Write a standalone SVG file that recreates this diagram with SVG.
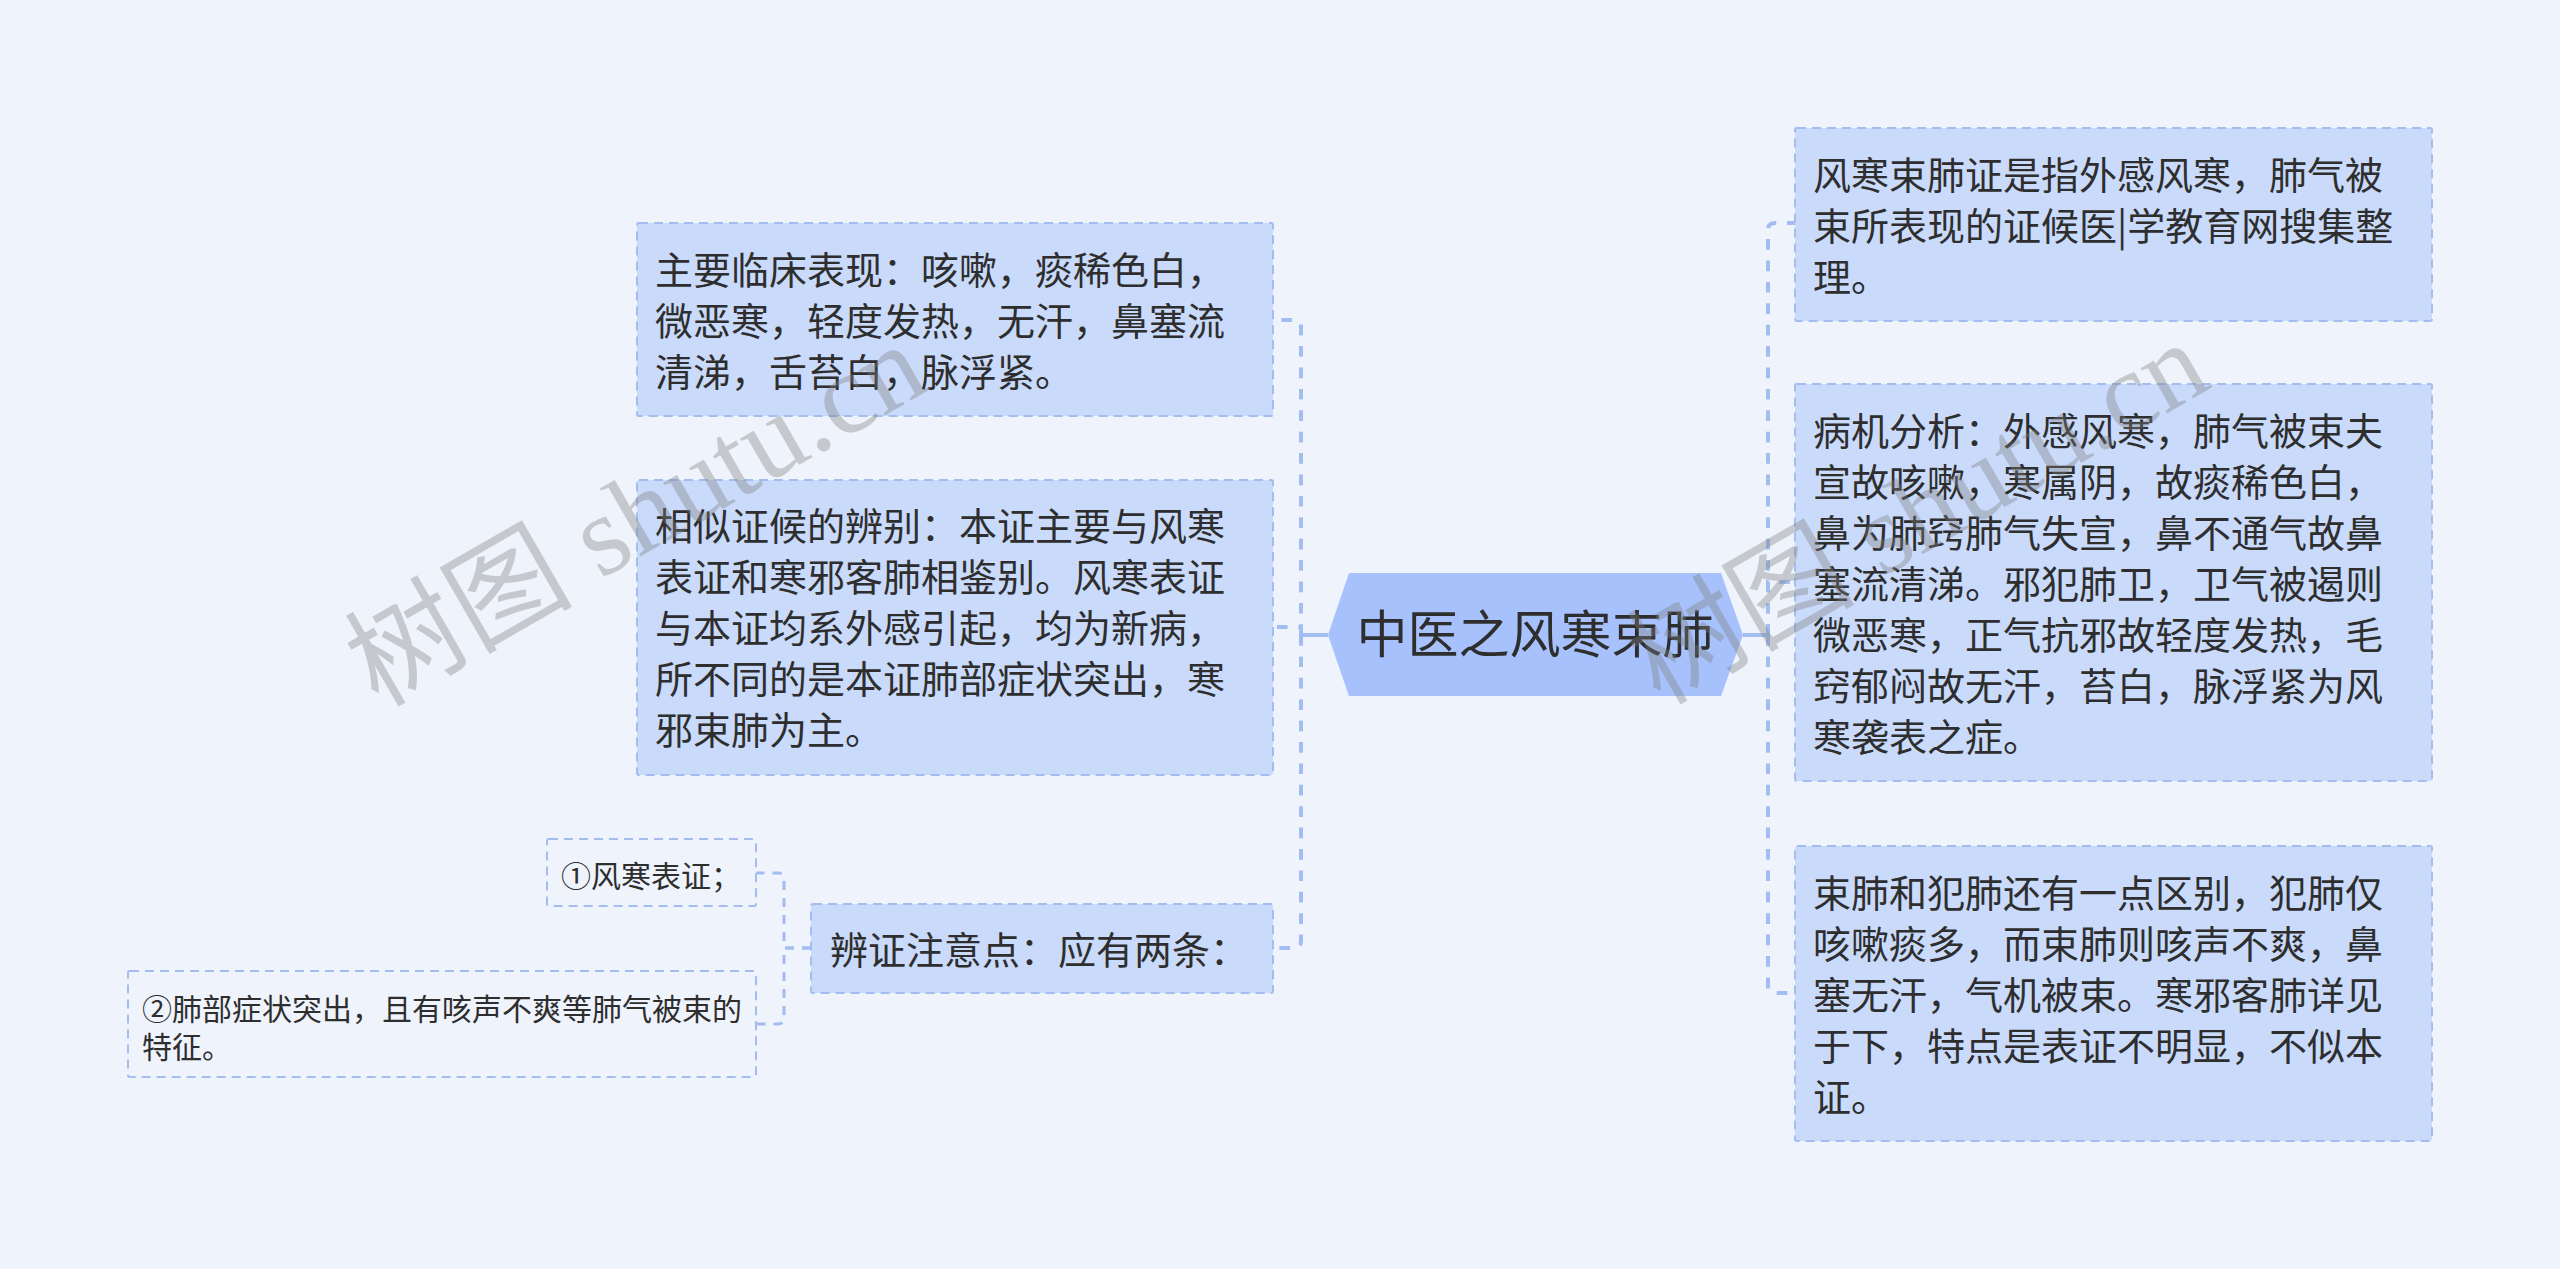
<svg xmlns="http://www.w3.org/2000/svg" width="2560" height="1269" viewBox="0 0 2560 1269">
<style>
.bg{fill:#eef3fc}
.box{fill:#c9dafb;stroke:#a3bdf0;stroke-width:2;stroke-dasharray:9 6}
.sub{fill:none;stroke:#a3bdf0;stroke-width:2;stroke-dasharray:9 6}
.root{fill:#a6c1fb}
.t{font-family:"Noto Sans CJK SC","Noto Sans",sans-serif;font-size:38px;fill:#2e2e2e}
.ts{font-family:"Noto Sans CJK SC","Noto Sans",sans-serif;font-size:30px;fill:#2e2e2e}
.tr{font-family:"Noto Sans CJK SC","Noto Sans",sans-serif;font-size:51px;fill:#2e2e2e}
.c{fill:none;stroke:#a3bdf2;stroke-width:4;stroke-dasharray:10.7 10.7}
.cs{fill:none;stroke:#a3bdf2;stroke-width:3;stroke-dasharray:9 8}
.solid{fill:none;stroke:#a3bdf2;stroke-width:4}
.wm{font-family:"Liberation Serif","Noto Sans CJK SC",serif;font-size:114px;fill:#808080;opacity:0.37}
</style>
<rect class="bg" x="0" y="0" width="2560" height="1269"/>

<g id="connectors">
  <path class="solid" d="M1328,635 H1301"/>
  <path class="c" d="M1301,635 V327 Q1301,320 1294,320 H1273"/>
  <path class="c" d="M1301,635 V627 H1273"/>
  <path class="c" d="M1301,635 V941 Q1301,948 1294,948 H1273"/>
  <path class="solid" d="M1743,635 H1768"/>
  <path class="c" d="M1768,635 V230 Q1768,223 1775,223 H1795"/>
  <path class="c" d="M1768,635 V582 H1795"/>
  <path class="c" d="M1768,635 V986 Q1768,993 1775,993 H1795"/>
  <path class="cs" d="M811,948 H784 V879 Q784,873 778,873 H756"/>
  <path class="cs" d="M811,948 H784 V1018 Q784,1024 778,1024 H756"/>
</g>

<g id="root">
  <polygon class="root" points="1328,635 1349,573 1721,573 1743,635 1721,696 1349,696"/>
  <text class="tr" x="1535" y="653" text-anchor="middle">中医之风寒束肺</text>
</g>

<g id="n-main">
  <rect class="box" x="637" y="223" width="636" height="193" rx="2"/>
  <text class="t"><tspan x="655" y="284">主要临床表现：咳嗽，痰稀色白，</tspan><tspan x="655" y="335">微恶寒，轻度发热，无汗，鼻塞流</tspan><tspan x="655" y="386">清涕，舌苔白，脉浮紧。</tspan></text>
</g>

<g id="n-similar">
  <rect class="box" x="637" y="480" width="636" height="295" rx="2"/>
  <text class="t"><tspan x="655" y="540">相似证候的辨别：本证主要与风寒</tspan><tspan x="655" y="591">表证和寒邪客肺相鉴别。风寒表证</tspan><tspan x="655" y="642">与本证均系外感引起，均为新病，</tspan><tspan x="655" y="693">所不同的是本证肺部症状突出，寒</tspan><tspan x="655" y="744">邪束肺为主。</tspan></text>
</g>

<g id="n-points">
  <rect class="box" x="811" y="904" width="462" height="89" rx="2"/>
  <text class="t" x="830" y="964">辨证注意点：应有两条：</text>
</g>

<g id="n-point1">
  <rect class="sub" x="547" y="839" width="209" height="67" rx="2"/>
  <text class="ts" x="561" y="887">①风寒表证；</text>
</g>

<g id="n-point2">
  <rect class="sub" x="128" y="971" width="628" height="106" rx="2"/>
  <text class="ts"><tspan x="142" y="1020">②肺部症状突出，且有咳声不爽等肺气被束的</tspan><tspan x="142" y="1058">特征。</tspan></text>
</g>

<g id="n-def">
  <rect class="box" x="1795" y="128" width="637" height="193" rx="2"/>
  <text class="t"><tspan x="1813" y="189">风寒束肺证是指外感风寒，肺气被</tspan><tspan x="1813" y="240">束所表现的证候医|学教育网搜集整</tspan><tspan x="1813" y="291">理。</tspan></text>
</g>

<g id="n-pathology">
  <rect class="box" x="1795" y="384" width="637" height="397" rx="2"/>
  <text class="t"><tspan x="1813" y="445">病机分析：外感风寒，肺气被束夫</tspan><tspan x="1813" y="496">宣故咳嗽，寒属阴，故痰稀色白，</tspan><tspan x="1813" y="547">鼻为肺窍肺气失宣，鼻不通气故鼻</tspan><tspan x="1813" y="598">塞流清涕。邪犯肺卫，卫气被遏则</tspan><tspan x="1813" y="649">微恶寒，正气抗邪故轻度发热，毛</tspan><tspan x="1813" y="700">窍郁闷故无汗，苔白，脉浮紧为风</tspan><tspan x="1813" y="751">寒袭表之症。</tspan></text>
</g>

<g id="n-diff">
  <rect class="box" x="1795" y="846" width="637" height="295" rx="2"/>
  <text class="t"><tspan x="1813" y="907">束肺和犯肺还有一点区别，犯肺仅</tspan><tspan x="1813" y="958">咳嗽痰多，而束肺则咳声不爽，鼻</tspan><tspan x="1813" y="1009">塞无汗，气机被束。寒邪客肺详见</tspan><tspan x="1813" y="1060">于下，特点是表证不明显，不似本</tspan><tspan x="1813" y="1111">证。</tspan></text>
</g>

<g id="watermarks">
  <text class="wm" transform="translate(378,708) rotate(-30)">树图 shutu.cn</text>
  <text class="wm" transform="translate(1660,706) rotate(-30)">树图 shutu.cn</text>
</g>
</svg>
